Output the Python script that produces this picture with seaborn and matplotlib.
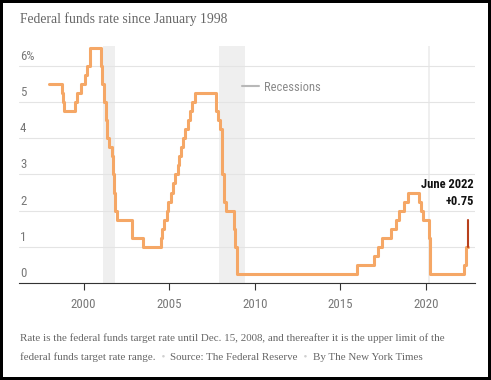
import matplotlib
matplotlib.use("Agg")
import matplotlib.pyplot as plt
import matplotlib.transforms as mtransforms
from matplotlib.lines import Line2D
import pandas as pd
import seaborn as sns

# Fed funds target rate (upper limit after Dec. 2008), value after each change
change_dates = [
    "1998-01-01", "1998-09-29", "1998-10-15", "1998-11-17", "1999-06-30", "1999-08-24",
    "1999-11-16", "2000-02-02", "2000-03-21", "2000-05-16", "2001-01-03", "2001-01-31",
    "2001-03-20", "2001-04-18", "2001-05-15", "2001-06-27", "2001-08-21", "2001-09-17",
    "2001-10-02", "2001-11-06", "2001-12-11", "2002-11-06", "2003-06-25", "2004-06-30",
    "2004-08-10", "2004-09-21", "2004-11-10", "2004-12-14", "2005-02-02", "2005-03-22",
    "2005-05-03", "2005-06-30", "2005-08-09", "2005-09-20", "2005-11-01", "2005-12-13",
    "2006-01-31", "2006-03-28", "2006-05-10", "2006-06-29", "2007-09-18", "2007-10-31",
    "2007-12-11", "2008-01-22", "2008-01-30", "2008-03-18", "2008-04-30", "2008-10-08",
    "2008-10-29", "2008-12-16", "2015-12-17", "2016-12-15", "2017-03-16", "2017-06-15",
    "2017-12-14", "2018-03-22", "2018-06-14", "2018-09-27", "2018-12-20", "2019-08-01",
    "2019-09-19", "2019-10-31", "2020-03-04", "2020-03-16", "2022-03-17", "2022-05-05",
    "2022-06-16",
]
rates = [
    5.50, 5.25, 5.00, 4.75, 5.00, 5.25,
    5.50, 5.75, 6.00, 6.50, 6.00, 5.50,
    5.00, 4.50, 4.00, 3.75, 3.50, 3.00,
    2.50, 2.00, 1.75, 1.25, 1.00, 1.25,
    1.50, 1.75, 2.00, 2.25, 2.50, 2.75,
    3.00, 3.25, 3.50, 3.75, 4.00, 4.25,
    4.50, 4.75, 5.00, 5.25, 4.75, 4.50,
    4.25, 3.50, 3.00, 2.25, 2.00, 1.50,
    1.00, 0.25, 0.50, 0.75, 1.00, 1.25,
    1.50, 1.75, 2.00, 2.25, 2.50, 2.25,
    2.00, 1.75, 1.25, 0.25, 0.50, 1.00,
    1.00,
]
latest_date = "2022-06-16"
latest_rates = [1.00, 1.75]

recession_start = ["2001-03-01", "2007-12-01", "2020-02-15"]
recession_end = ["2001-11-01", "2009-06-01", "2020-04-01"]

y_ticks = [0, 1, 2, 3, 4, 5, 6]
y_labels = ["0", "1", "2", "3", "4", "5", "6%"]
x_ticks = [2000, 2005, 2010, 2015, 2020]


def to_year(d):
    d = pd.to_datetime(d)
    return d.year + (d.dayofyear - 1) / (366 if d.is_leap_year else 365)


df = pd.DataFrame({"year": [to_year(d) for d in change_dates], "rate": rates})
latest = pd.DataFrame({"year": [to_year(latest_date)] * 2, "rate": latest_rates})

sns.set_theme(style="white")
plt.rcParams["font.family"] = ["Roboto Condensed", "DejaVu Sans"]
serif = ["Liberation Serif", "DejaVu Serif"]

orange = "#f5a766"
red = "#b8401c"
grey_text = "#777777"

fig = plt.figure(figsize=(4.91, 3.80), dpi=100, linewidth=3, edgecolor="black")
ax = fig.add_axes([19 / 491, 1 - 283 / 380, 456 / 491, 237 / 380])

for s, e in zip(recession_start, recession_end):
    ax.axvspan(to_year(s), to_year(e), color="#efefef", lw=0, zorder=0)

sns.lineplot(data=df, x="year", y="rate", ax=ax, color=orange, lw=2.2,
             drawstyle="steps-post", estimator=None, zorder=3)
sns.lineplot(data=latest, x="year", y="rate", ax=ax, color=red, lw=1.5,
             estimator=None, sort=False, zorder=4)

ax.set_xlim(1996.23, 2022.86)
ax.set_ylim(0, 6.55)
ax.set_xlabel("")
ax.set_ylabel("")

ax.set_yticks(y_ticks)
ax.set_yticklabels([])
ax.tick_params(axis="y", length=0)
ax.yaxis.grid(True, color="#e4e4e4", lw=0.8)
ax.xaxis.grid(False)
lab_tr = mtransforms.offset_copy(
    mtransforms.blended_transform_factory(ax.transAxes, ax.transData), fig=fig, x=1, y=3, units="dots")
for v, lab in zip(y_ticks, y_labels):
    ax.text(0, v, lab, transform=lab_tr, ha="left", va="bottom", fontsize=9.3, color=grey_text)

ax.set_xticks(x_ticks)
ax.set_xticklabels([str(x) for x in x_ticks])
ax.tick_params(axis="x", length=5, width=0.8, color="#333333", labelsize=9.3,
               labelcolor=grey_text, pad=6, bottom=True)
for side in ["top", "right", "left"]:
    ax.spines[side].set_visible(False)
ax.spines["bottom"].set_color("#333333")
ax.spines["bottom"].set_linewidth(0.8)

ax.legend(handles=[Line2D([], [], color="#b8b8b8", lw=1.5)], labels=["Recessions"],
          loc="center left", bbox_to_anchor=(0.49, 0.827), frameon=False,
          handlelength=1.3, handletextpad=0.4, borderpad=0, borderaxespad=0,
          labelcolor="#8a8a8a", prop={"family": "Roboto Condensed", "size": 9})

ann_tr = mtransforms.blended_transform_factory(ax.transAxes, ax.transData)
ax.text(0.998, 2.08, "June 2022\n+0.75", transform=ann_tr, ha="right", va="bottom",
        fontsize=9, fontweight="bold", color="#111111", linespacing=1.35, multialignment="right")

fig.text(20 / 491, 1 - 23 / 380, "Federal funds rate since January 1998", family=serif,
         fontsize=9.8, color="#666666", va="baseline")

note1 = "Rate is the federal funds target rate until Dec. 15, 2008, and thereafter it is the upper limit of the"
fig.text(20 / 491, 1 - 341 / 380, note1, family=serif, fontsize=7.9, color="#666666", va="baseline")

# second note line: pieces separated by light dots
pieces = [("federal funds target rate range.", "#666666"), ("  \u2022  ", "#d0d0d0"),
          ("Source: The Federal Reserve", "#666666"), ("  \u2022  ", "#d0d0d0"),
          ("By The New York Times", "#666666")]
renderer = fig.canvas.get_renderer()
x_px = 20
for txt, col in pieces:
    t = fig.text(x_px / 491, 1 - 360 / 380, txt, family=serif, fontsize=7.9, color=col, va="baseline")
    x_px += t.get_window_extent(renderer).width

fig.savefig("out.png", dpi=100, edgecolor=fig.get_edgecolor())
